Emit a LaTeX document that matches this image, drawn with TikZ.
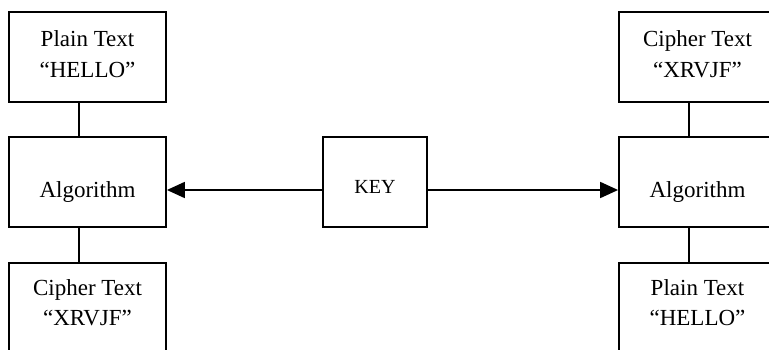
\documentclass[tikz,border=0pt]{standalone}
\usepackage{fontspec}
\setmainfont{Liberation Serif}
\usetikzlibrary{arrows.meta}
\begin{document}
\begin{tikzpicture}[x=1pt,y=1pt,
  box/.style={draw=black, line width=1.8pt, minimum width=157pt, minimum height=90pt, inner sep=0pt},
  keybox/.style={draw=black, line width=1.8pt, minimum width=104pt, minimum height=90pt, inner sep=0pt},
  txt/.style={anchor=base, inner sep=0pt, font=\fontsize{23}{27}\selectfont},
  keytxt/.style={anchor=base, inner sep=0pt, font=\fontsize{20}{24}\selectfont},
  link/.style={line width=1.8pt},
  arr/.style={line width=1.8pt, -{Triangle[length=18pt,width=16pt]}}]
\useasboundingbox (0,0) rectangle (769,349);
\clip (0,0) rectangle (769,349);

% encryption side
\node[box] (ptL) at (87.5,292) {};
\node[box] (algL) at (87.5,167) {};
\node[box] (ctL) at (87.5,41) {};
% decryption side
\node[box] (ctR) at (697.5,292) {};
\node[box] (algR) at (697.5,167) {};
\node[box] (ptR) at (697.5,41) {};
% key
\node[keybox] (key) at (375,167) {};

% labels
\node[txt] (ptL1) at ([yshift=10pt]ptL.center) {Plain Text};
\node[txt] (ptL2) at ([yshift=-20pt]ptL.center) {“HELLO”};
\node[txt] (algLt) at ([yshift=-15pt]algL.center) {Algorithm};
\node[txt] (ctL1) at ([yshift=13pt]ctL.center) {Cipher Text};
\node[txt] (ctL2) at ([yshift=-17pt]ctL.center) {“XRVJF”};

\node[txt] (ctR1) at ([yshift=10pt]ctR.center) {Cipher Text};
\node[txt] (ctR2) at ([yshift=-20pt]ctR.center) {“XRVJF”};
\node[txt] (algRt) at ([yshift=-15pt]algR.center) {Algorithm};
\node[txt] (ptR1) at ([yshift=13pt]ptR.center) {Plain Text};
\node[txt] (ptR2) at ([yshift=-17pt]ptR.center) {“HELLO”};

\node[keytxt] (keyt) at ([yshift=-11pt]key.center) {KEY};

% vertical links
\draw[link] ([xshift=-8.5pt]ptL.south) -- ([xshift=-8.5pt]algL.north);
\draw[link] ([xshift=-8.5pt]algL.south) -- ([xshift=-8.5pt]ctL.north);
\draw[link] ([xshift=-8.5pt]ctR.south) -- ([xshift=-8.5pt]algR.north);
\draw[link] ([xshift=-8.5pt]algR.south) -- ([xshift=-8.5pt]ptR.north);

% key arrows
\draw[arr] ([yshift=-8pt]key.west) -- ([yshift=-8pt]algL.east);
\draw[arr] ([yshift=-8pt]key.east) -- ([yshift=-8pt]algR.west);
\end{tikzpicture}
\end{document}
